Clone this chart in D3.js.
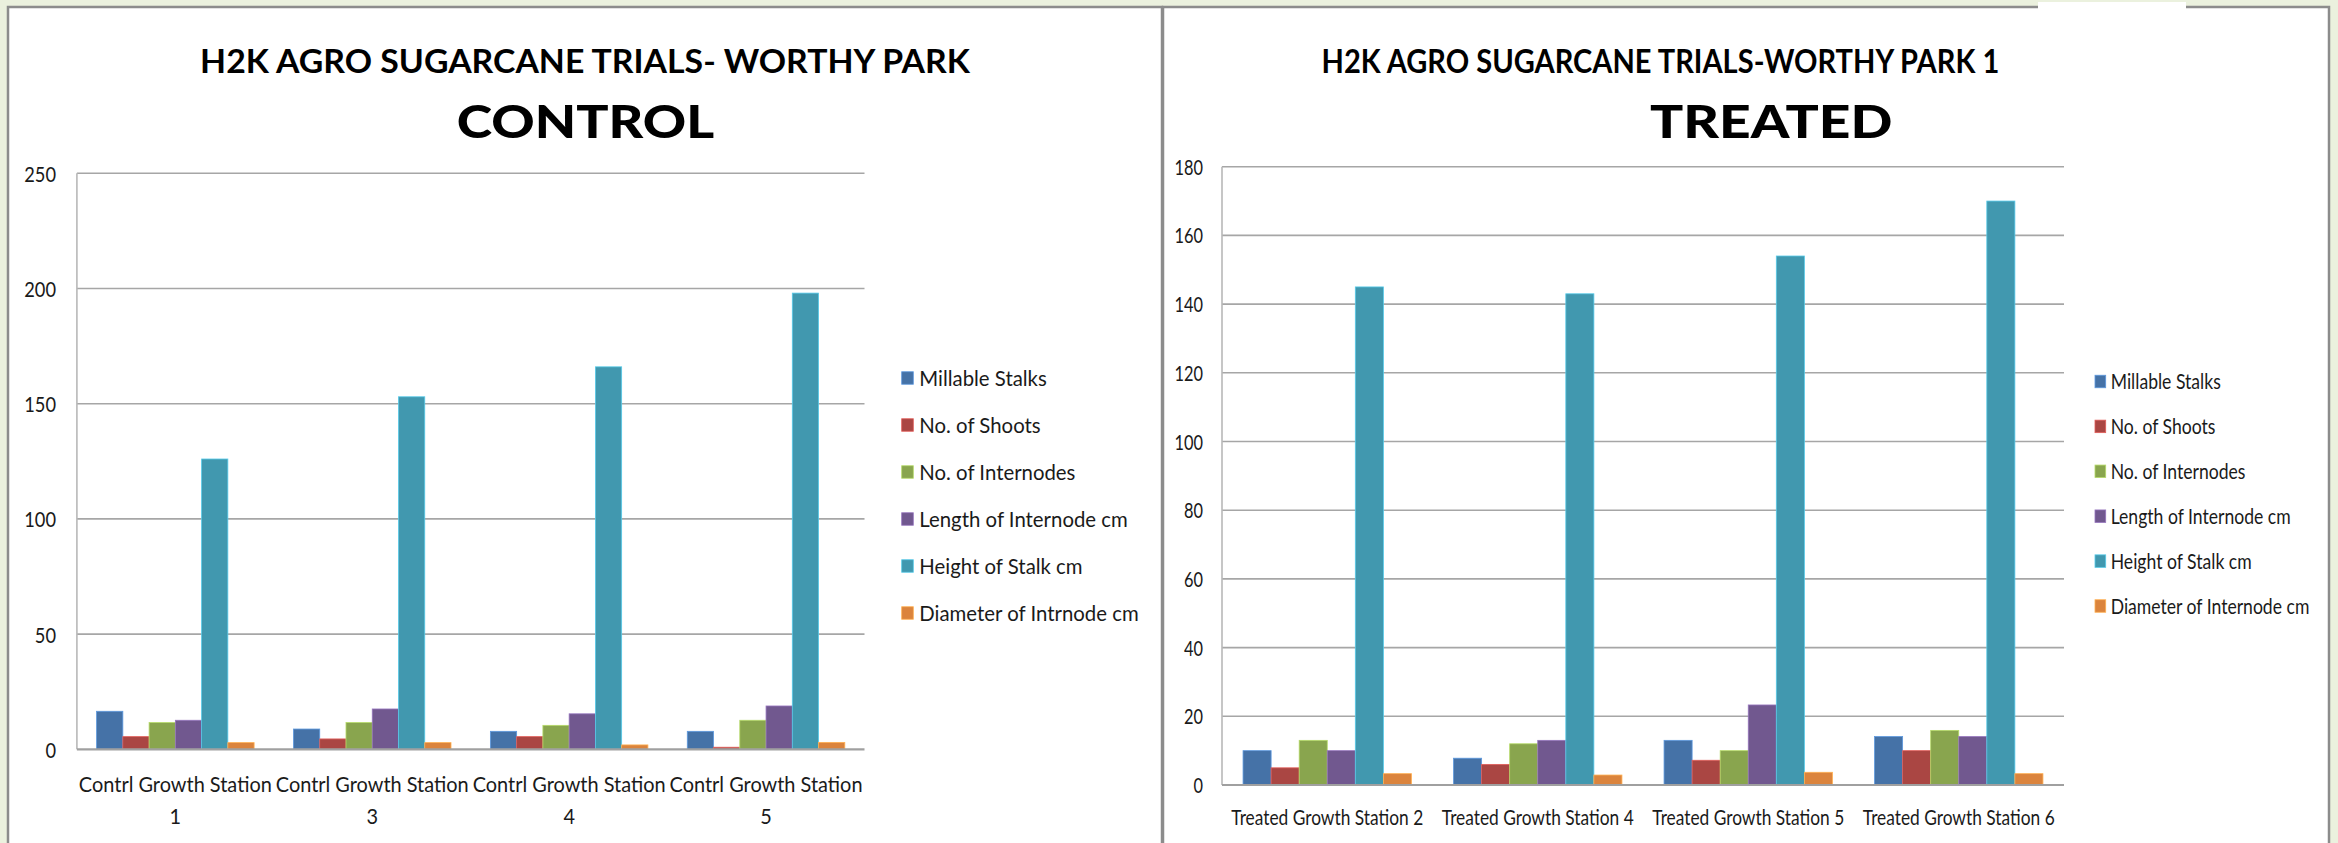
<!DOCTYPE html>
<html><head><meta charset="utf-8">
<script src="https://cdn.jsdelivr.net/npm/d3@7"></script>
<style>html,body{margin:0;padding:0;background:#EBF1DE;} svg{display:block}</style>
</head><body>
<svg id="c" width="2338" height="843"></svg>
<script>
// ---------- DATA ----------
const controlTitle = "H2K AGRO SUGARCANE TRIALS- WORTHY PARK";
const controlSubtitle = "CONTROL";
const treatedTitle = "H2K AGRO SUGARCANE TRIALS-WORTHY PARK 1";
const treatedSubtitle = "TREATED";

const controlSeries = ["Millable Stalks","No. of Shoots","No. of Internodes","Length of Internode cm","Height of Stalk cm","Diameter of Intrnode cm"];
const treatedSeries = ["Millable Stalks","No. of Shoots","No. of Internodes","Length of Internode cm","Height of Stalk cm","Diameter of Internode cm"];

const controlCategories = ["Contrl Growth Station 1","Contrl Growth Station 3","Contrl Growth Station 4","Contrl Growth Station 5"];
const treatedCategories = ["Treated Growth Station 2","Treated Growth Station 4","Treated Growth Station 5","Treated Growth Station 6"];

// values per series, one value per category
const controlMillable   = [16.5, 8.8, 7.8, 7.8];
const controlShoots     = [5.5, 4.5, 5.5, 0.9];
const controlInternodes = [11.6, 11.6, 10.4, 12.6];
const controlLength     = [12.6, 17.5, 15.4, 18.8];
const controlHeight     = [126, 153, 166, 198];
const controlDiameter   = [2.9, 2.9, 1.9, 3.0];

const treatedMillable   = [10, 7.8, 13, 14.1];
const treatedShoots     = [5, 6, 7.2, 10];
const treatedInternodes = [13, 12, 10, 15.9];
const treatedLength     = [10, 13, 23.3, 14.1];
const treatedHeight     = [145, 143, 154, 170];
const treatedDiameter   = [3.3, 2.9, 3.7, 3.3];

const controlTicks = [0, 50, 100, 150, 200, 250];
const treatedTicks = [0, 20, 40, 60, 80, 100, 120, 140, 160, 180];

// ---------- STYLE ----------
const seriesColors = ["#4572A7","#AA4643","#89A54E","#71588F","#4198AF","#DB843D"];
const FONT = "Lato, 'Open Sans', 'Liberation Sans', sans-serif";

const svg = d3.select("#c");

// horizontally compress a text around its anchor point
function squeezeTo(sel, factor){
  sel.each(function(){
    const t = d3.select(this);
    const x = +t.attr("x") || 0, y = +t.attr("y") || 0;
    t.attr("x", 0).attr("y", 0).attr("transform", `translate(${x},${y}) scale(${factor},1)`);
  });
}
function fitWidth(sel, width){
  sel.each(function(){
    const w = this.getComputedTextLength();
    squeezeTo(d3.select(this), width / w);
  });
}

// panels
svg.append("rect").attr("x",0).attr("y",0).attr("width",2338).attr("height",843).attr("fill","#EBF1DE");
svg.append("rect").attr("x",8).attr("y",7).attr("width",1154).attr("height",900)
  .attr("fill","#fff").attr("stroke","#8c8c8c").attr("stroke-width",2.5);
svg.append("rect").attr("x",1163).attr("y",7).attr("width",1166).attr("height",900)
  .attr("fill","#fff").attr("stroke","#8c8c8c").attr("stroke-width",2.5);
svg.append("rect").attr("x",2038).attr("y",2).attr("width",148).attr("height",8).attr("fill","#fff");

function drawChart(cfg){
  const g = svg.append("g");
  const cats = cfg.categories;
  const values = cfg.series.map((s,i)=>({name:s, vals:cfg.values[i], color:seriesColors[i]}));

  const y = d3.scaleLinear().domain([0, d3.max(cfg.ticks)]).range([cfg.plotB, cfg.plotT]);
  const x0 = d3.scaleBand().domain(cats).range([cfg.plotL, cfg.plotR]).paddingInner(0).paddingOuter(0);
  const x1 = d3.scaleBand().domain(cfg.series).range([0, x0.bandwidth()]).paddingInner(0).paddingOuter(0.75);

  // gridlines
  g.append("g").selectAll("line").data(cfg.ticks.filter(t=>t>0)).join("line")
    .attr("x1", cfg.plotL).attr("x2", cfg.plotR)
    .attr("y1", d=>y(d)).attr("y2", d=>y(d))
    .attr("stroke","#a6a6a6").attr("stroke-width",1.6);
  // y axis line
  g.append("line").attr("x1",cfg.plotL).attr("x2",cfg.plotL).attr("y1",cfg.plotT).attr("y2",cfg.plotB)
    .attr("stroke","#b8b8b8").attr("stroke-width",1.6);

  // bars
  values.forEach(s=>{
    g.append("g").selectAll("rect").data(cats.map((c,j)=>({c, v:s.vals[j]}))).join("rect")
      .attr("x", d=>x0(d.c)+x1(s.name))
      .attr("width", x1.bandwidth())
      .attr("y", d=>y(d.v))
      .attr("height", d=>y(0)-y(d.v))
      .attr("fill", s.color)
      .attr("stroke", d3.color(s.color).brighter(0.8))
      .attr("stroke-width", 0.8);
  });

  // baseline
  g.append("line").attr("x1",cfg.plotL).attr("x2",cfg.plotR).attr("y1",y(0)).attr("y2",y(0))
    .attr("stroke","#a0a0a0").attr("stroke-width",2.2);

  // y axis labels
  const ay = g.append("g").attr("transform",`translate(${cfg.plotL},0)`)
    .call(d3.axisLeft(y).tickValues(cfg.ticks).tickSize(0).tickPadding(cfg.plotL-cfg.tickRight));
  ay.select(".domain").remove();
  const tickTexts = ay.selectAll("text").attr("font-family",FONT).attr("font-size",cfg.tickFont)
    .attr("fill","#1a1a1a").attr("dy","0.36em");
  let wMax = 0;
  tickTexts.each(function(d){ if(d===d3.max(cfg.ticks)) wMax=this.getComputedTextLength(); });
  squeezeTo(tickTexts, cfg.tickTarget / wMax);

  // x labels
  const xl = g.append("g");
  cats.forEach((c)=>{
    const cx = x0(c) + x0.bandwidth()/2;
    let lines = [c];
    if (cfg.wrap){ const k = c.lastIndexOf(" "); lines = [c.slice(0,k), c.slice(k+1)]; }
    const t1 = xl.append("text").attr("x",cx).attr("y",cfg.xBase1).attr("text-anchor","middle")
      .attr("font-family",FONT).attr("font-size",cfg.xFont).attr("fill","#1a1a1a").text(lines[0]);
    const w1 = t1.node().getComputedTextLength();
    const f = cfg.xWidth / w1;
    squeezeTo(t1, f);
    if (lines.length>1){
      const t2 = xl.append("text").attr("x",cx).attr("y",cfg.xBase2).attr("text-anchor","middle")
        .attr("font-family",FONT).attr("font-size",cfg.xFont).attr("fill","#1a1a1a").text(lines[1]);
      squeezeTo(t2, f);
    }
  });

  // legend
  const lg = g.append("g");
  const items = lg.selectAll("g").data(values).join("g")
    .attr("transform",(d,i)=>`translate(0,${cfg.legY0 + i*cfg.legStep})`);
  items.append("rect").attr("x",cfg.legSqX).attr("y",-cfg.legSqH/2).attr("width",cfg.legSqW).attr("height",cfg.legSqH)
    .attr("fill",d=>d.color).attr("stroke",d=>d3.color(d.color).brighter(0.8)).attr("stroke-width",0.8);
  const lt = items.append("text").attr("x",cfg.legTextX).attr("y",0).attr("dy","0.36em")
    .attr("font-family",FONT).attr("font-size",cfg.legFont).attr("fill","#1a1a1a").text(d=>d.name);
  let wl = 0;
  lt.each(function(){ wl = Math.max(wl, this.getComputedTextLength()); });
  squeezeTo(lt, cfg.legLongWidth / wl);

  // titles
  const tt = g.append("text").attr("x",cfg.titleX).attr("y",73.3).attr("text-anchor",cfg.titleAnchor)
    .attr("font-family",FONT).attr("font-weight",700).attr("font-size",32.5).attr("fill","#000")
    .text(cfg.title);
  fitWidth(tt, cfg.titleWidth);
  const st = g.append("text").attr("x",cfg.subX).attr("y",138.3).attr("text-anchor","middle")
    .attr("font-family",FONT).attr("font-weight",900).attr("font-size",45).attr("fill","#000")
    .text(cfg.subtitle);
  fitWidth(st, cfg.subWidth);
}

drawChart({
  categories: controlCategories, series: controlSeries,
  values: [controlMillable, controlShoots, controlInternodes, controlLength, controlHeight, controlDiameter],
  ticks: controlTicks,
  plotL: 76.9, plotR: 864.5, plotT: 173.3, plotB: 749.3,
  tickRight: 56, tickFont: 22, tickTarget: 31.8,
  wrap: true, xBase1: 791.7, xBase2: 824.3, xFont: 22, xWidth: 193,
  legSqX: 901.7, legSqW: 11.6, legSqH: 12.5, legTextX: 919.3, legY0: 378, legStep: 47, legFont: 22, legLongWidth: 219.5,
  title: controlTitle, titleX: 585, titleAnchor: "middle", titleWidth: 770,
  subtitle: controlSubtitle, subX: 585.5, subWidth: 257.5
});

drawChart({
  categories: treatedCategories, series: treatedSeries,
  values: [treatedMillable, treatedShoots, treatedInternodes, treatedLength, treatedHeight, treatedDiameter],
  ticks: treatedTicks,
  plotL: 1222, plotR: 2064, plotT: 166.7, plotB: 785,
  tickRight: 1203, tickFont: 21, tickTarget: 28.5,
  wrap: false, xBase1: 825, xFont: 22, xWidth: 192,
  legSqX: 2095, legSqW: 10.7, legSqH: 12.5, legTextX: 2110.7, legY0: 381.5, legStep: 44.9, legFont: 21, legLongWidth: 198.7,
  title: treatedTitle, titleX: 1321.5, titleAnchor: "start", titleWidth: 678,
  subtitle: treatedSubtitle, subX: 1771.2, subWidth: 242.6
});
</script>
</body></html>
